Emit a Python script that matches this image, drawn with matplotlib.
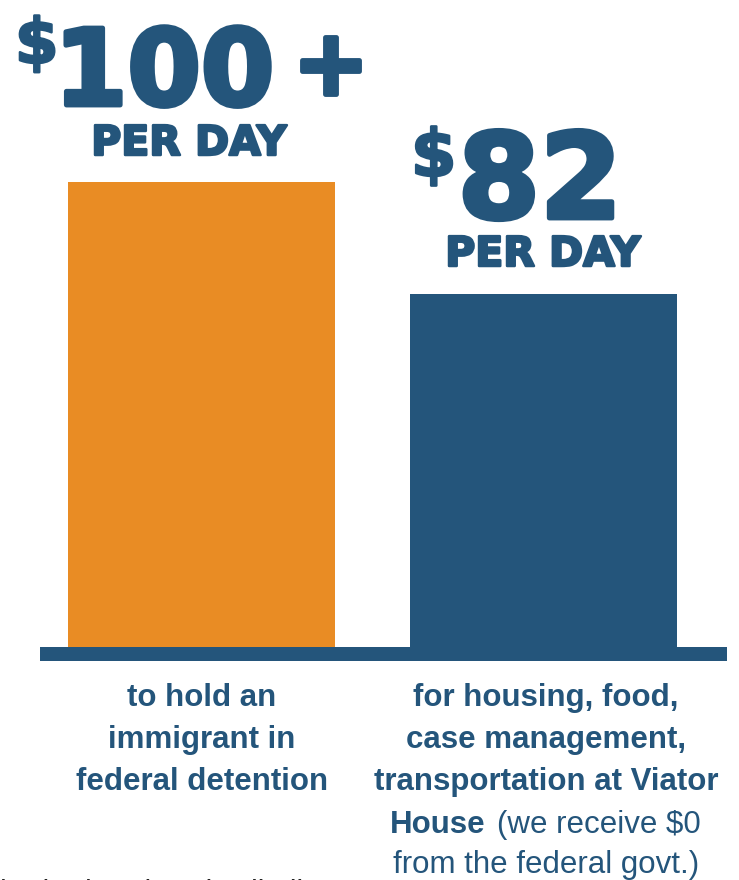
import matplotlib
matplotlib.use('Agg')
import matplotlib.pyplot as plt
from matplotlib.patches import Rectangle
import matplotlib.patheffects as pe

# ---- data ----
categories = ["Federal detention", "Viator House"]
cost_per_day = [108, 82]          # bar heights (first bar is "$100+")
headline_numbers = ["100", "82"]
headline_suffix = ["+", ""]
headline_units = ["PER DAY", "PER DAY"]
left_label_lines = ["to hold an", "immigrant in", "federal detention"]
right_label_lines = ["for housing, food,", "case management,", "transportation at Viator"]
right_label_bold_tail = "House"
right_label_regular = ["(we receive $0", "from the federal govt.)"]
cut_text = "hath  that the  dwell all"

ORANGE = "#E98C24"
NAVY = "#24557B"
bar_colors = [ORANGE, NAVY]

W, H = 739, 880
fig = plt.figure(figsize=(W / 100, H / 100), dpi=100)
fig.patch.set_facecolor("white")


def fx(x):
    return x / W


def fy(y):
    return 1 - y / H


ax = fig.add_axes([fx(40), fy(647), fx(727) - fx(40), fy(0) - fy(647)])
ax.set_xlim(-0.472, 1.537)
ax.set_ylim(0, 150.3)
ax.bar(range(len(categories)), cost_per_day, width=0.781, color=bar_colors)
ax.axis("off")
ax.add_patch(Rectangle((0, 0), 1, -14 / 647, transform=ax.transAxes,
                       clip_on=False, color=NAVY, lw=0))

HEAD = "DejaVu Sans"
hw = "bold"
heavy = [pe.withStroke(linewidth=3.5, foreground=NAVY)]
heavy_s = [pe.withStroke(linewidth=1.8, foreground=NAVY)]


def head(x, y, s, size, ha="left", effects=heavy):
    fig.text(fx(x), fy(y), s, fontsize=size, fontweight=hw, family=HEAD,
             color=NAVY, ha=ha, va="baseline", path_effects=effects)


# headline 1
head(15, 63, "$", 45, effects=heavy_s)
head(54, 105, headline_numbers[0], 76)
head(292, 94, headline_suffix[0], 66)
head(189, 155, headline_units[0], 29.5, ha="center", effects=heavy_s)
# headline 2
head(411, 176, "$", 47, effects=heavy_s)
head(540, 218, headline_numbers[1], 85, ha="center")
head(543, 266, headline_units[1], 29.5, ha="center", effects=heavy_s)

LAB = "Liberation Sans"
fs = 22.5
for i, line in enumerate(left_label_lines):
    fig.text(fx(202), fy(706 + 42 * i), line, fontsize=fs, fontweight="bold",
             family=LAB, color=NAVY, ha="center", va="baseline")
for i, line in enumerate(right_label_lines):
    fig.text(fx(546), fy(706 + 42 * i), line, fontsize=fs, fontweight="bold",
             family=LAB, color=NAVY, ha="center", va="baseline")
fig.text(fx(486), fy(833), right_label_bold_tail, fontsize=fs, fontweight="bold",
         family=LAB, color=NAVY, ha="right", va="baseline")
fig.text(fx(497), fy(833), right_label_regular[0], fontsize=fs,
         family=LAB, color=NAVY, ha="left", va="baseline")
fig.text(fx(546), fy(873), right_label_regular[1], fontsize=fs,
         family=LAB, color=NAVY, ha="center", va="baseline")

fig.text(fx(0), fy(902), cut_text, fontsize=22, family=LAB, color="#222222",
         ha="left", va="baseline")

fig.savefig("out.png", dpi=100, facecolor="white")
